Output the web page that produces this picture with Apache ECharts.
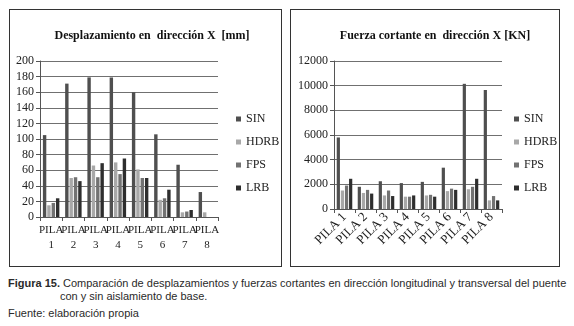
<!DOCTYPE html>
<html>
<head>
<meta charset="utf-8">
<script src="https://cdn.jsdelivr.net/npm/echarts@6/dist/echarts.min.js"></script>
<style>
	html, body { margin: 0; padding: 0; background: #fff; }
	body { width: 574px; height: 326px; position: relative; overflow: hidden; }
	.caja { position: absolute; top: 9px; height: 256px; border: 1px solid #333; box-sizing: content-box; }
	#cajaIzq { left: 9px; width: 271px; }
	#cajaDer { left: 290px; width: 268px; }
	.grafico { width: 100%; height: 100%; }
	.pie { position: absolute; font-family: "Liberation Sans", Arial, sans-serif; font-size: 11px; color: #2a2a2a; white-space: nowrap; }
</style>
</head>
<body>
<div class="caja" id="cajaIzq"><div class="grafico" id="desplazamiento"></div></div>
<div class="caja" id="cajaDer"><div class="grafico" id="cortante"></div></div>
<div class="pie" style="left:8px; top:277px;"><b>Figura 15.</b> Comparación de desplazamientos y fuerzas cortantes en dirección longitudinal y transversal del puente</div>
<div class="pie" style="left:60px; top:290px;">con y sin aislamiento de base.</div>
<div class="pie" style="left:8px; top:307px;">Fuente: elaboración propia</div>
<script>
// datos
var series_names = ['SIN', 'HDRB', 'FPS', 'LRB'];
var pilas_x = ['PILA\n1', 'PILA\n2', 'PILA\n3', 'PILA\n4', 'PILA\n5', 'PILA\n6', 'PILA\n7', 'PILA\n8'];
var pilas_v = ['PILA 1', 'PILA 2', 'PILA 3', 'PILA 4', 'PILA 5', 'PILA 6', 'PILA 7', 'PILA 8'];

// desplazamiento [mm]
var desp_sin = [105, 171, 179, 179, 160, 106, 67, 32];
var desp_hdrb = [15, 50, 66, 70, 61, 22, 6, 6];
var desp_fps = [18, 51, 51, 55, 50, 24, 7, 0];
var desp_lrb = [24, 46, 69, 75, 50, 35, 9, 0];

// fuerza cortante [KN]
var cort_sin = [5800, 1800, 2250, 2100, 2200, 3350, 10150, 9650];
var cort_hdrb = [1500, 1300, 1100, 1000, 1100, 1450, 1600, 700];
var cort_fps = [1900, 1550, 1500, 1000, 1150, 1650, 1800, 1050];
var cort_lrb = [2450, 1250, 1050, 1100, 1000, 1550, 2450, 700];

var colores = ['#4f4f4f', '#a8a8a8', '#727272', '#2e2e2e'];
var serif = '"Liberation Serif", "Times New Roman", serif';

function barras(divId, title, cats, datos, yMax, yInterval, grid, titleX, legendX, rotado) {
	var dom = document.getElementById(divId);
	var chart = echarts.init(dom);
	var series = [];
	for (var i = 0; i < datos.length; i++) {
		series.push({
			name: series_names[i],
			type: 'bar',
			data: datos[i],
			barGap: '28%',
			barCategoryGap: '26%',
			itemStyle: { color: colores[i] }
		});
	}
	var option = {
		animation: false,
		color: colores,
		title: {
			text: title,
			left: titleX,
			top: 15,
			textAlign: 'center',
			textStyle: { fontFamily: serif, fontSize: 12, fontWeight: 'bold', color: '#111' }
		},
		legend: {
			orient: 'vertical',
			left: legendX,
			top: 97,
			itemWidth: 5,
			itemHeight: 5,
			itemGap: 9,
			icon: 'rect',
			textStyle: { fontFamily: serif, fontSize: 12, color: '#222', lineHeight: 14 },
			data: series_names
		},
		grid: grid,
		xAxis: {
			type: 'category',
			data: cats,
			axisLine: { lineStyle: { color: '#555', width: 1 } },
			axisTick: { show: true, length: 4, lineStyle: { color: '#555' } },
			axisLabel: rotado ? {
				interval: 0,
				rotate: 45,
				margin: 6,
				fontFamily: serif,
				fontSize: 13,
				color: '#222'
			} : {
				interval: 0,
				hideOverlap: false,
				margin: 6,
				fontFamily: serif,
				fontSize: 11,
				lineHeight: 15,
				color: '#222'
			}
		},
		yAxis: {
			type: 'value',
			min: 0,
			max: yMax,
			interval: yInterval,
			axisLine: { show: true, lineStyle: { color: '#555', width: 1 } },
			axisTick: { show: true, length: 4, lineStyle: { color: '#555' } },
			axisLabel: {
				fontFamily: serif,
				fontSize: 12,
				color: '#222',
				margin: 6,
				formatter: function (v) { return String(v); }
			},
			splitLine: { lineStyle: { color: '#707070', width: 1 } }
		},
		series: series
	};
	chart.setOption(option, true);
	return chart;
}

barras('desplazamiento', 'Desplazamiento en  dirección X  [mm]', pilas_x,
	[desp_sin, desp_hdrb, desp_fps, desp_lrb], 200, 20,
	{ left: 30, top: 51, width: 178, height: 156 }, 137, 221, false);

barras('cortante', 'Fuerza cortante en  dirección X [KN]', pilas_v,
	[cort_sin, cort_hdrb, cort_fps, cort_lrb], 12000, 2000,
	{ left: 43, top: 51, width: 168, height: 148 }, 139, 218, true);
</script>
</body>
</html>
